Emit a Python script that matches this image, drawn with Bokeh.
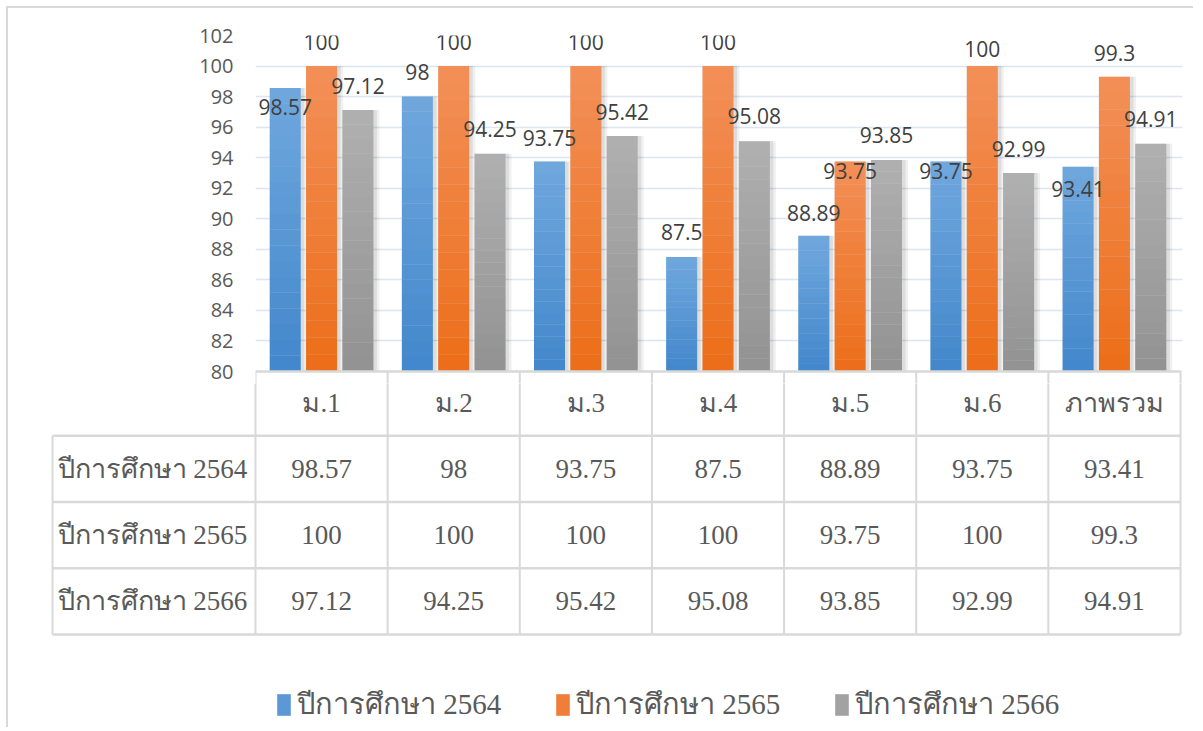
from bokeh.plotting import figure
from bokeh.models import ColumnDataSource, Range1d, FixedTicker, Legend, LegendItem
from bokeh.embed import file_html
from bokeh.resources import INLINE
from bokeh.core.properties import value

# ---------------- data ----------------
categories = ["ม.1", "ม.2", "ม.3", "ม.4", "ม.5", "ม.6", "ภาพรวม"]
series_names = ["ปีการศึกษา 2564", "ปีการศึกษา 2565", "ปีการศึกษา 2566"]
y2564 = [98.57, 98, 93.75, 87.5, 88.89, 93.75, 93.41]
y2565 = [100, 100, 100, 100, 93.75, 100, 99.3]
y2566 = [97.12, 94.25, 95.42, 95.08, 93.85, 92.99, 94.91]
y_ticks = [80, 82, 84, 86, 88, 90, 92, 94, 96, 98, 100, 102]

# ---------------- styling ----------------
series_values = [y2564, y2565, y2566]
top_colors = ["#70a8de", "#f39058", "#b0b0b0"]
bottom_colors = ["#4287cb", "#ec6d18", "#929292"]
mid_colors = ["#5b98d5", "#f07e38", "#a2a2a2"]
# label centre distance above bar top (px); negative = label sits inside bar
label_shift = [
    [-19, 25, 24, 24.5, 23, -9, -22],
    [24, 24, 24, 24, -9, 17, 24],
    [24, 25, 24, 25, 24.5, 24.5, 25],
]
offsets = [-0.275, 0.0, 0.275]
bar_w = 0.235
BASE = 80
YTOP = 102
PPU = 336 / 22          # px per y unit
CAT_PX = 132.14         # px per category
ROW_PX = 66.25          # px per table row
EXTRA = 14              # px of chart canvas below the 80 line
GRID = "#d9d9d9"
TXT = "#595959"
N_BANDS = 18
SERIF = "'Liberation Serif', Norasi, Kinnari, 'TH Sarabun New', serif"


def mix(c1, c2, t):
    a = [int(c1[i:i + 2], 16) for i in (1, 3, 5)]
    b = [int(c2[i:i + 2], 16) for i in (1, 3, 5)]
    return "#%02x%02x%02x" % tuple(round(a[k] + (b[k] - a[k]) * t) for k in range(3))


# ---------------- chart figure ----------------
FA_H = 27 + 336 + EXTRA
fa = figure(width=1187, height=FA_H,
            x_range=Range1d(0, 7 + 2 / CAT_PX),
            y_range=Range1d(BASE - EXTRA / PPU, YTOP),
            min_border_left=247, min_border_right=13, min_border_top=27, min_border_bottom=0,
            output_backend="svg", toolbar_location=None)
fa.margin = (6, 0, 0, 6)
fa.styles = {"border-top": "2px solid #d9d9d9", "border-left": "2px solid #d9d9d9"}
fa.outline_line_color = None
fa.xaxis.visible = False
fa.xgrid.grid_line_color = None
fa.ygrid.grid_line_color = "#dce5f1"
fa.ygrid.grid_line_width = 1.5
fa.yaxis.ticker = FixedTicker(ticks=y_ticks)
fa.yaxis.axis_line_color = None
fa.yaxis.major_tick_line_color = None
fa.yaxis.minor_tick_line_color = None
fa.yaxis.major_tick_out = 0
fa.yaxis.major_label_standoff = 22
fa.yaxis.major_label_text_font = "Open Sans"
fa.yaxis.major_label_text_font_size = "20px"
fa.yaxis.major_label_text_color = TXT

# shadows
for s, vals in enumerate(series_values):
    xs = [i + 0.5 + offsets[s] for i in range(len(categories))]
    for dx, dw, alpha in [(3, 6, 0.06), (2, 3, 0.08)]:
        fa.vbar(x=[x + dx / CAT_PX for x in xs], top=vals, bottom=BASE,
                width=bar_w + dw / CAT_PX, fill_color="#000000", fill_alpha=alpha, line_color=None)

# gradient bars
for s, vals in enumerate(series_values):
    bx, bb, bt, bc = [], [], [], []
    for i, v in enumerate(vals):
        for k in range(N_BANDS):
            lo = BASE + (v - BASE) * k / N_BANDS
            hi = BASE + (v - BASE) * (k + 1) / N_BANDS
            bx.append(i + 0.5 + offsets[s])
            bb.append(lo)
            bt.append(hi + (0.02 if k < N_BANDS - 1 else 0))
            bc.append(mix(bottom_colors[s], top_colors[s], (k + 0.5) / N_BANDS))
    src = ColumnDataSource(dict(x=bx, bottom=bb, top=bt, color=bc))
    fa.vbar(x="x", bottom="bottom", top="top", width=bar_w, fill_color="color",
            line_color=None, source=src)

# data labels
lx, ly, lt = [], [], []
for s, vals in enumerate(series_values):
    for i, v in enumerate(vals):
        lx.append(i + 0.5 + offsets[s])
        ly.append(v + label_shift[s][i] / PPU)
        lt.append(f"{v:g}")
fa.text(x="x", y="y", text="t", source=ColumnDataSource(dict(x=lx, y=ly, t=lt)),
        text_font=value("Open Sans"), text_font_size="21px", text_color="#404040",
        text_align="center", text_baseline="middle")

# top of data table (inside chart frame)
n = len(categories)
fa.segment(x0=[0], x1=[n], y0=[BASE], y1=[BASE], line_color=GRID, line_width=2.5)
fa.segment(x0=list(range(n + 1)), x1=list(range(n + 1)),
           y0=[BASE - (EXTRA + 4) / PPU] * (n + 1), y1=[BASE] * (n + 1), line_color=GRID, line_width=2)

# ---------------- table figure ----------------
FB_H = 344
fb = figure(width=1187, height=FB_H,
            x_range=Range1d(-205 / CAT_PX, 7 + 2 / CAT_PX),
            y_range=Range1d((FB_H + EXTRA) / ROW_PX, EXTRA / ROW_PX),
            min_border_left=42, min_border_right=13, min_border_top=0, min_border_bottom=0,
            output_backend="svg", toolbar_location=None)
fb.margin = (0, 0, 0, 6)
fb.styles = {"border-left": "2px solid #d9d9d9"}
fb.outline_line_color = None
fb.xaxis.visible = False
fb.yaxis.visible = False
fb.xgrid.grid_line_color = None
fb.ygrid.grid_line_color = None

left_edge = -203 / CAT_PX
nrows = len(series_names)
# horizontal lines
fb.segment(x0=[left_edge] * (nrows + 1), x1=[n] * (nrows + 1),
           y0=list(range(1, nrows + 2)), y1=list(range(1, nrows + 2)),
           line_color=GRID, line_width=2.5)
# vertical lines
fb.segment(x0=[left_edge] + list(range(n + 1)), x1=[left_edge] + list(range(n + 1)),
           y0=[1] + [-1] * (n + 1), y1=[nrows + 1] * (n + 2), line_color=GRID, line_width=2)

TFONT = value(SERIF)
fb.text(x=[i + 0.5 for i in range(n)], y=[0.5] * n, text=categories,
        text_font=TFONT, text_font_size="27px", text_color=TXT,
        text_align="center", text_baseline="middle")
fb.text(x=[left_edge + 5 / CAT_PX] * nrows, y=[r + 1.5 for r in range(nrows)], text=series_names,
        text_font=TFONT, text_font_size="27px", text_color=TXT,
        text_align="left", text_baseline="middle")
cx, cy, ct = [], [], []
for s, vals in enumerate(series_values):
    for i, v in enumerate(vals):
        cx.append(i + 0.5)
        cy.append(s + 1.5)
        ct.append(f"{v:g}")
fb.text(x="x", y="y", text="t", source=ColumnDataSource(dict(x=cx, y=cy, t=ct)),
        text_font=TFONT, text_font_size="27px", text_color=TXT,
        text_align="center", text_baseline="middle")

# legend (keys come from hidden copies of the bar series)
keys = []
for s, vals in enumerate(series_values):
    r = fb.vbar(x=[i + 0.5 + offsets[s] for i in range(n)], top=vals, bottom=BASE, width=bar_w,
                fill_color=mid_colors[s], line_color=None)
    r.visible = False
    keys.append(r)
legend = Legend(items=[LegendItem(label=nm, renderers=[r]) for nm, r in zip(series_names, keys)],
                orientation="horizontal", location=(225, 0))
legend.glyph_width = 17
legend.glyph_height = 27
legend.label_height = 27
legend.label_width = 237
legend.label_standoff = 5
legend.spacing = 20
legend.padding = 0
legend.margin = 0
legend.border_line_color = None
legend.background_fill_alpha = 0
legend.inactive_fill_alpha = 0
legend.click_policy = "none"
legend.label_text_font = SERIF
legend.label_text_font_size = "29px"
legend.label_text_color = TXT
fb.add_layout(legend)

open("out.html", "w").write(file_html([fa, fb], INLINE))
